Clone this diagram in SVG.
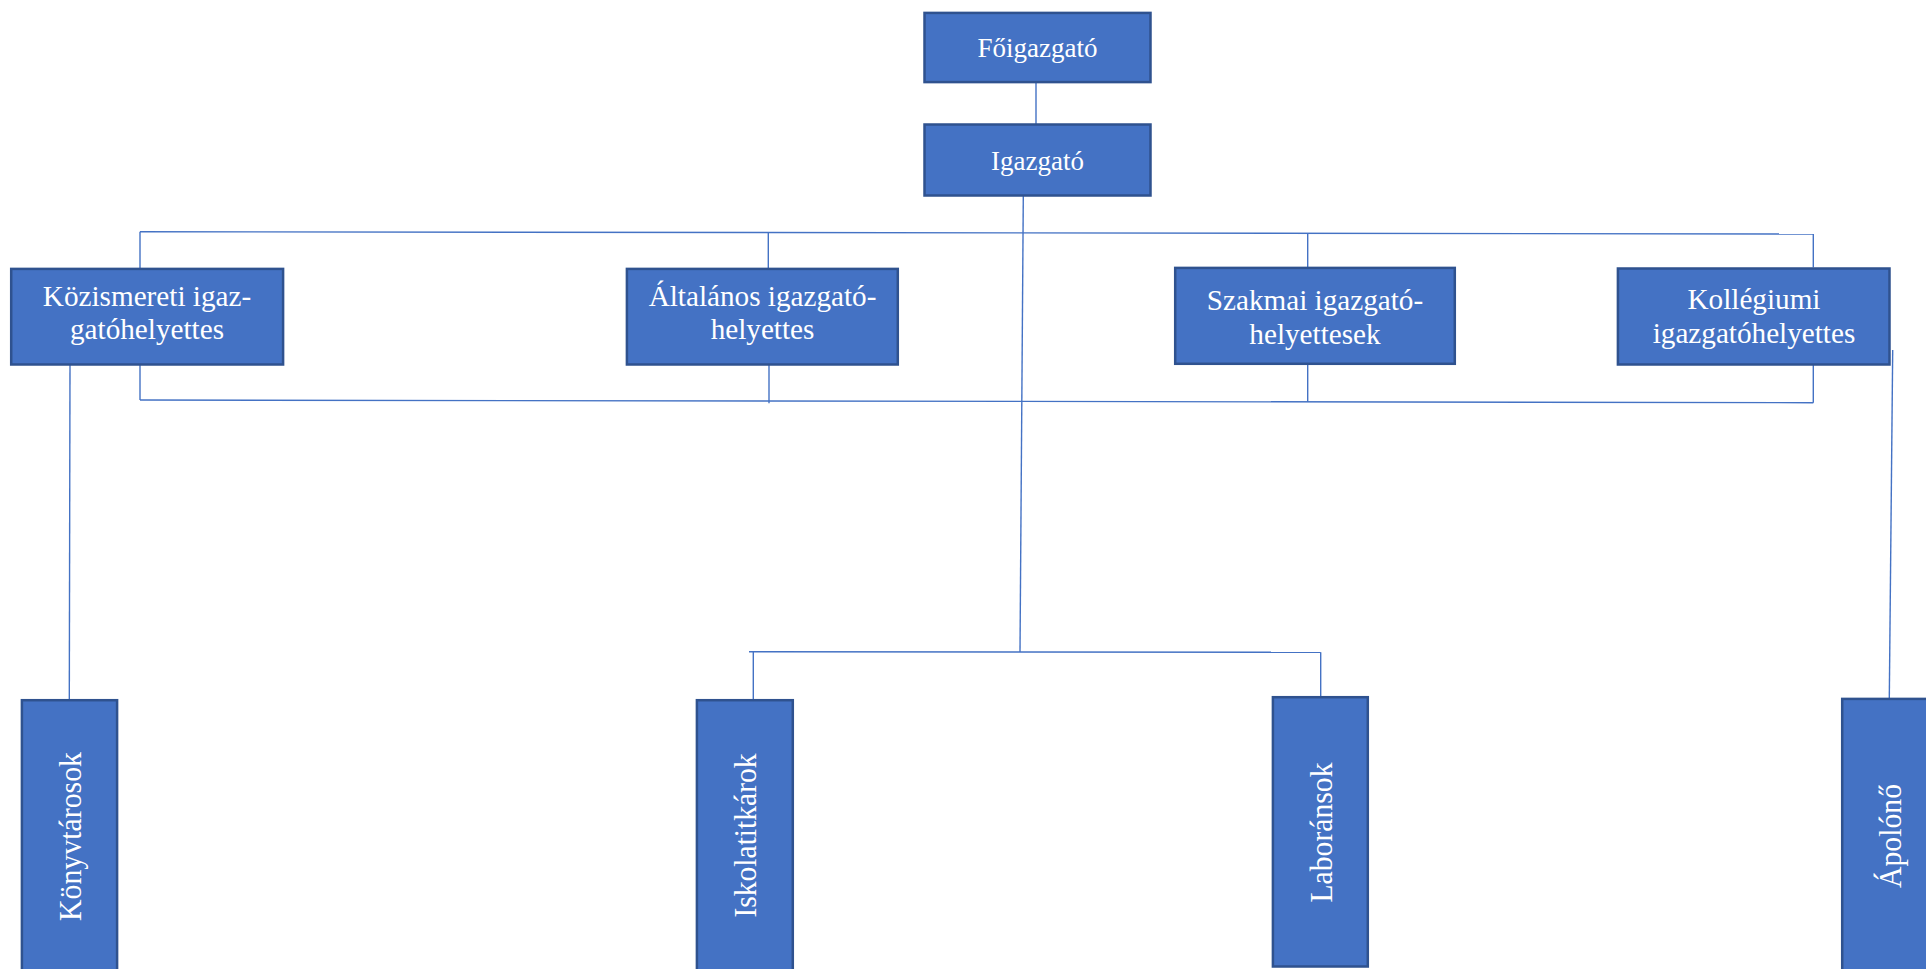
<svg xmlns="http://www.w3.org/2000/svg" width="1926" height="969" viewBox="0 0 1926 969">
<style>
.box{fill:#4472C4;stroke:#2F528F;stroke-width:2.5}
.lbl{fill:#ffffff;font-family:"Liberation Serif","Times New Roman",serif;text-anchor:middle}
.t1{font-size:27px}
.t2{font-size:29.2px}
.t3{font-size:31px}
.con{fill:none;stroke:#4472C4;stroke-width:1.4}
</style>
<rect width="1926" height="969" fill="#ffffff"/>
<g id="connectors">
<line class="con" x1="1036" y1="83" x2="1036" y2="124"/>
<line class="con" x1="1023.3" y1="196" x2="1020" y2="652"/>
<line class="con" x1="140" y1="231.7" x2="1813.3" y2="234"/>
<line class="con" x1="140" y1="231.7" x2="140" y2="268"/>
<line class="con" x1="768.3" y1="232.5" x2="768.3" y2="268"/>
<line class="con" x1="1307.7" y1="233.3" x2="1307.7" y2="267"/>
<line class="con" x1="1813.3" y1="234" x2="1813.3" y2="267.5"/>
<line class="con" x1="140" y1="400" x2="1813.3" y2="402.7"/>
<line class="con" x1="140" y1="365" x2="140" y2="400"/>
<line class="con" x1="769" y1="365" x2="769" y2="403.3"/>
<line class="con" x1="1307.7" y1="365" x2="1307.7" y2="401.7"/>
<line class="con" x1="1813.3" y1="365" x2="1813.3" y2="402.7"/>
<line class="con" x1="70" y1="365" x2="69.3" y2="699"/>
<line class="con" x1="1892.7" y1="350" x2="1889.3" y2="698"/>
<line class="con" x1="749" y1="651.7" x2="1320.7" y2="652.3"/>
<line class="con" x1="753.3" y1="651.7" x2="753.3" y2="699"/>
<line class="con" x1="1320.7" y1="652.3" x2="1320.7" y2="696"/>
</g>
<g id="n-foigazgato">
<rect class="box" x="924.5" y="12.9" width="226" height="69.2"/>
<text class="lbl t1" x="1037.5" y="57.3">Főigazgató</text>
</g>
<g id="n-igazgato">
<rect class="box" x="924.5" y="124.5" width="226" height="71"/>
<text class="lbl t1" x="1037.5" y="170">Igazgató</text>
</g>
<g id="n-kozismereti">
<rect class="box" x="11.2" y="268.9" width="271.9" height="95.6"/>
<text class="lbl t2" x="147" y="306">Közismereti igaz-</text>
<text class="lbl t2" x="147" y="339">gatóhelyettes</text>
</g>
<g id="n-altalanos">
<rect class="box" x="626.9" y="268.9" width="270.9" height="95.6"/>
<text class="lbl t2" x="762.5" y="306">Általános igazgató-</text>
<text class="lbl t2" x="762.5" y="339.3">helyettes</text>
</g>
<g id="n-szakmai">
<rect class="box" x="1175.2" y="267.9" width="279.6" height="95.9"/>
<text class="lbl t2" x="1315" y="309.5">Szakmai igazgató-</text>
<text class="lbl t2" x="1315" y="343.5">helyettesek</text>
</g>
<g id="n-kollegiumi">
<rect class="box" x="1617.9" y="268.5" width="271.6" height="96"/>
<text class="lbl t2" x="1754" y="309.3">Kollégiumi</text>
<text class="lbl t2" x="1754" y="343.3">igazgatóhelyettes</text>
</g>
<g id="n-konyvtarosok">
<rect class="box" x="21.9" y="700.2" width="95.2" height="280"/>
<text class="lbl t3" transform="translate(81,836.5) rotate(-90)" x="0" y="0" textLength="169" lengthAdjust="spacingAndGlyphs">Könyvtárosok</text>
</g>
<g id="n-iskolatitkarok">
<rect class="box" x="696.9" y="700.2" width="95.9" height="280"/>
<text class="lbl t3" transform="translate(756,835.5) rotate(-90)" x="0" y="0" textLength="164" lengthAdjust="spacingAndGlyphs">Iskolatitkárok</text>
</g>
<g id="n-laboransok">
<rect class="box" x="1272.9" y="697.2" width="94.9" height="269.3"/>
<text class="lbl t3" transform="translate(1331.7,832.5) rotate(-90)" x="0" y="0" textLength="140" lengthAdjust="spacingAndGlyphs">Laboránsok</text>
</g>
<g id="n-apolono">
<rect class="box" x="1842.2" y="698.9" width="95.6" height="280"/>
<text class="lbl t3" transform="translate(1901,836) rotate(-90)" x="0" y="0" textLength="104" lengthAdjust="spacingAndGlyphs">Ápolónő</text>
</g>
</svg>
